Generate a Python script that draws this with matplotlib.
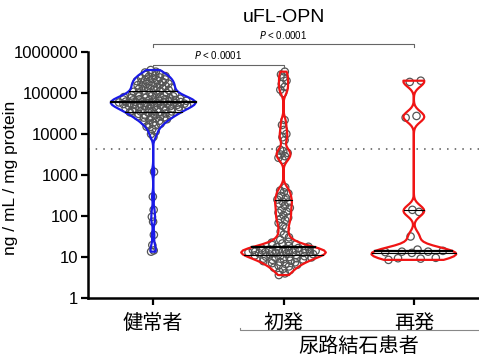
import numpy as np
import matplotlib
matplotlib.use("Agg")
import matplotlib.pyplot as plt

plt.rcParams['font.family'] = ['Liberation Sans', 'Noto Sans CJK JP']

# values are log10(ng / mL / mg protein)
groups = ["健常者", "初発", "再発"]
healthy_log10 = [
    5.56, 5.52, 5.50, 5.48, 5.46,
    5.44, 5.43, 5.41, 5.40, 5.38, 5.36, 5.35, 5.33, 5.32, 5.31,
    5.29, 5.28, 5.27, 5.26, 5.24, 5.23, 5.22, 5.21, 5.19, 5.18, 5.17, 5.16,
    5.14, 5.13, 5.12, 5.11, 5.10, 5.08, 5.07, 5.06, 5.04, 5.03,
    5.01, 5.00, 4.99, 4.98, 4.97, 4.96, 4.95, 4.94, 4.93, 4.92, 4.92, 4.91,
    4.90,
    4.89, 4.88, 4.88, 4.87, 4.86, 4.85, 4.85, 4.84, 4.83, 4.83, 4.82, 4.81,
    4.81, 4.80, 4.80, 4.79, 4.79, 4.78, 4.78, 4.77, 4.77, 4.76,
    4.76, 4.75, 4.75, 4.74, 4.74, 4.73, 4.73, 4.72, 4.71, 4.71, 4.70, 4.70,
    4.69, 4.68, 4.68, 4.67, 4.66, 4.65,
    4.64, 4.63, 4.62, 4.62, 4.61, 4.60, 4.59, 4.58, 4.58, 4.57, 4.56, 4.55,
    4.55, 4.54,
    4.53, 4.52, 4.50, 4.49, 4.48, 4.46, 4.45, 4.44, 4.43, 4.42, 4.41, 4.40,
    4.38, 4.36, 4.34, 4.32, 4.30, 4.28, 4.25, 4.23, 4.21,
    4.18, 4.12, 4.06, 4.00, 3.93,
    3.08, 2.47, 2.15, 1.98, 1.86, 1.54, 1.29, 1.16, 1.13,
]
first_log10 = [
    5.52, 5.45, 5.38, 5.30, 5.22, 5.15, 5.08, 5.00,
    4.34, 4.22, 4.10, 4.00, 3.92, 3.85,
    3.62, 3.58, 3.54, 3.50, 3.46, 3.42, 3.37,
    2.70, 2.62, 2.58, 2.55, 2.49, 2.44, 2.40, 2.35, 2.33, 2.30, 2.25, 2.20,
    2.14, 2.11, 2.08, 2.02, 1.96, 1.93, 1.90, 1.83, 1.76, 1.70,
    1.62, 1.55, 1.48, 1.42,
    1.37, 1.35, 1.33, 1.31, 1.29, 1.27, 1.25, 1.24, 1.22, 1.21,
    1.19, 1.19, 1.18, 1.18, 1.17, 1.17, 1.16, 1.16, 1.15, 1.15, 1.14, 1.14,
    1.13, 1.13, 1.12, 1.12, 1.11, 1.11, 1.10, 1.10, 1.09, 1.08, 1.07, 1.06,
    1.05, 1.04, 1.03, 1.02, 1.01, 1.00, 0.99, 0.98, 0.97, 0.96, 0.95, 0.94,
    0.93, 0.91, 0.90, 0.88, 0.87, 0.85, 0.83, 0.81, 0.79, 0.77, 0.74, 0.71,
    0.68, 0.64, 0.60, 0.56,
]
recur_log10 = [
    5.30, 5.27, 4.44, 4.40, 2.15, 2.10, 1.50, 1.18, 1.15, 1.13, 1.13, 1.12,
    1.10, 0.98, 0.97, 0.96, 0.93,
]
bandwidths = [0.12, 0.08, 0.08]
group_colors = ["#1a1ae6", "#f01414", "#f01414"]
cutoff = 4400
p_text = "$P$ < 0.0001"
vwidth = 0.65

fig = plt.figure(figsize=(4.79, 3.6), dpi=100)
ax = fig.add_axes([88 / 479, 62 / 360, 391 / 479, 246 / 360])


def half_width(vals, factor, y):
    # same gaussian kde as violinplot, scaled the same way
    h = factor * np.std(vals, ddof=1)
    grid = np.linspace(vals.min(), vals.max(), 100)
    dens = lambda t: np.exp(-0.5 * ((np.atleast_1d(t)[:, None] - vals) / h) ** 2).sum(axis=1)
    return 0.5 * vwidth * dens(y) / dens(grid).max()


all_data = [healthy_log10, first_log10, recur_log10]
for i, vals in enumerate(all_data):
    vals = np.array(vals)
    parts = ax.violinplot(vals, positions=[i], widths=vwidth, showextrema=False,
                          bw_method=bandwidths[i])
    body = parts['bodies'][0]
    body.set_facecolor('none')
    body.set_edgecolor(group_colors[i])
    body.set_linewidth(1.6)
    body.set_alpha(1)
    body.set_zorder(3)

    svals = np.sort(vals)
    offs = np.array([(2 * ((k * 0.618034) % 1) - 1) for k in range(len(svals))])
    xs = i + offs * half_width(vals, bandwidths[i], svals) * 0.85
    ax.scatter(xs, svals, s=28, facecolors='none', edgecolors='#555555',
               linewidths=0.9, zorder=2)

    q1, med, q3 = np.percentile(vals, [25, 50, 75])
    for q, lw in [(q1, 0.8), (med, 1.6), (q3, 0.8)]:
        hw = half_width(vals, bandwidths[i], q)[0]
        ax.plot([i - hw, i + hw], [q, q], color='black', lw=lw, zorder=4)

ax.axhline(np.log10(cutoff), color='#555555', lw=1.1, ls=(0, (1, 4)), zorder=1)

ax.set_xlim(-0.5, 2.5)
ax.set_ylim(0, 6)
ax.set_yticks(range(7))
ax.set_yticklabels([str(10 ** k) for k in range(7)])
ax.set_xticks(range(3))
ax.set_xticklabels(groups, fontsize=14.5, family=['Noto Sans CJK JP'])
ax.tick_params(axis='y', labelsize=12, length=5, width=1.6, pad=2)
ax.tick_params(axis='x', length=5, width=1.6, pad=6)
for s in ['top', 'right']:
    ax.spines[s].set_visible(False)
for s in ['left', 'bottom']:
    ax.spines[s].set_linewidth(1.8)

ax.set_ylabel("ng / mL / mg protein", fontsize=12.5)
ax.yaxis.set_label_coords(-0.179, 0.49)

# significance brackets
bk = dict(color='#666666', lw=0.8, clip_on=False)
ax.plot([0, 0, 2, 2], [6.13, 6.2, 6.2, 6.13], **bk)
ax.text(1, 6.42, p_text, ha='center', va='center', fontsize=7)
ax.plot([0, 0, 1, 1], [5.61, 5.68, 5.68, 5.61], **bk)
ax.text(0.5, 5.93, p_text, ha='center', va='center', fontsize=7)

# patient group bracket
ax.plot([0.67, 0.67, 2.6], [-0.72, -0.78, -0.78], color='#888888', lw=0.8,
        clip_on=False)
ax.text(1.58, -1.17, "尿路結石患者", ha='center', va='center', fontsize=14.5,
        family=['Noto Sans CJK JP'])

fig.text(283.5 / 479, 1 - 18 / 360, "uFL-OPN", ha='center', va='center',
         fontsize=14)

fig.savefig("out.png", dpi=100)
